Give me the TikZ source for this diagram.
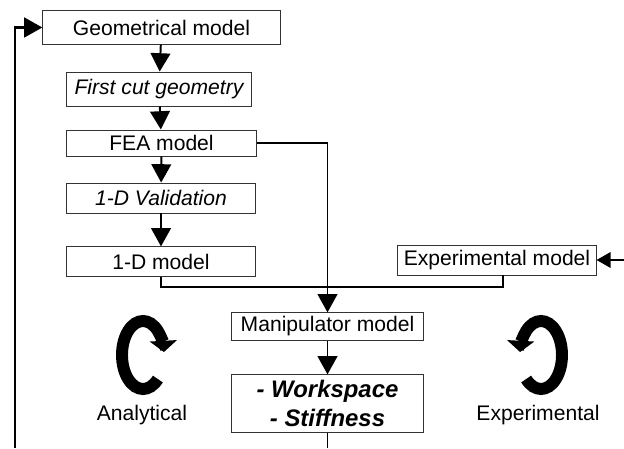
\documentclass[tikz,border=0pt]{standalone}
\usepackage{fontspec}
\setmainfont{Liberation Sans}
\usetikzlibrary{arrows.meta}

\tikzset{
  block/.style={draw=black!80, line width=0.7pt, inner sep=0pt,
    font=\fontsize{15}{18}\selectfont},
  wire/.style={line width=1.4pt},
  flow/.style={wire, -{Triangle[length=13pt,width=14pt]}},
  turn/.style={line width=8.5pt, -{Triangle[length=8pt,width=19pt]}},
  tag/.style={inner sep=0pt, font=\fontsize{15}{18}\selectfont}
}

\begin{document}
\begin{tikzpicture}[x=0.025cm, y=0.025cm]
\useasboundingbox (0,0) rectangle (624,448);
% analytical chain
\node[block, minimum width=5.93cm, minimum height=0.83cm] (geo) at (161.5,420.5) {Geometrical model};
\node[block, minimum width=4.6cm, minimum height=0.85cm] (first) at (159,359) {\itshape First cut geometry};
\node[block, minimum width=4.73cm, minimum height=0.65cm] (fea) at (161.5,305) {FEA model};
\node[block, minimum width=4.7cm, minimum height=0.75cm] (val) at (161,250) {\itshape 1-D Validation};
\node[block, minimum width=4.7cm, minimum height=0.73cm] (one) at (161,186.5) {1-D model};
% experimental side
\node[block, minimum width=4.95cm, minimum height=0.75cm] (exp) at (497,188) {Experimental model};
% manipulator
\node[block, minimum width=4.78cm, minimum height=0.68cm] (man) at (327.5,121.5) {Manipulator model};
\node[block, minimum width=4.78cm, minimum height=1.43cm, align=center,
  font=\fontsize{17}{20}\selectfont\bfseries\itshape] (work) at (327.5,44.5) {- Workspace\\- Stiffness};
% arrows
\draw[flow] (geo) -- (first);
\draw[flow] (first) -- (fea);
\draw[flow] (fea) -- (val);
\draw[flow] (val) -- (one);
\draw[flow] (fea.east) -| (man.north);
\draw[wire] (one.south) -- ++(0,-10) -| ([xshift=0.15cm]exp.south);
\draw[flow] (man) -- (work);
% loose ends
\coordinate (out) at (327.5,0);
\coordinate (back) at (15,0);
\coordinate (ein) at (624,188);
\draw[wire] (work.south) -- (out);
\draw[flow, line width=2pt] (back) |- (geo.west);
\draw[flow, -{Triangle[length=10pt,width=11pt]}] (ein) -- (exp.east);
% loops
\coordinate (ana) at (143,93);
\coordinate (expc) at (541,93);
\draw[turn] ([shift={(-45:21 and 34)}]ana) arc[start angle=-45, end angle=-355, x radius=21, y radius=34];
\draw[turn] ([shift={(225:21 and 34)}]expc) arc[start angle=225, end angle=535, x radius=21, y radius=34];
\node[tag] (analab) at (142,33) {Analytical};
\node[tag] (explab) at (538,33) {Experimental};
\end{tikzpicture}
\end{document}
